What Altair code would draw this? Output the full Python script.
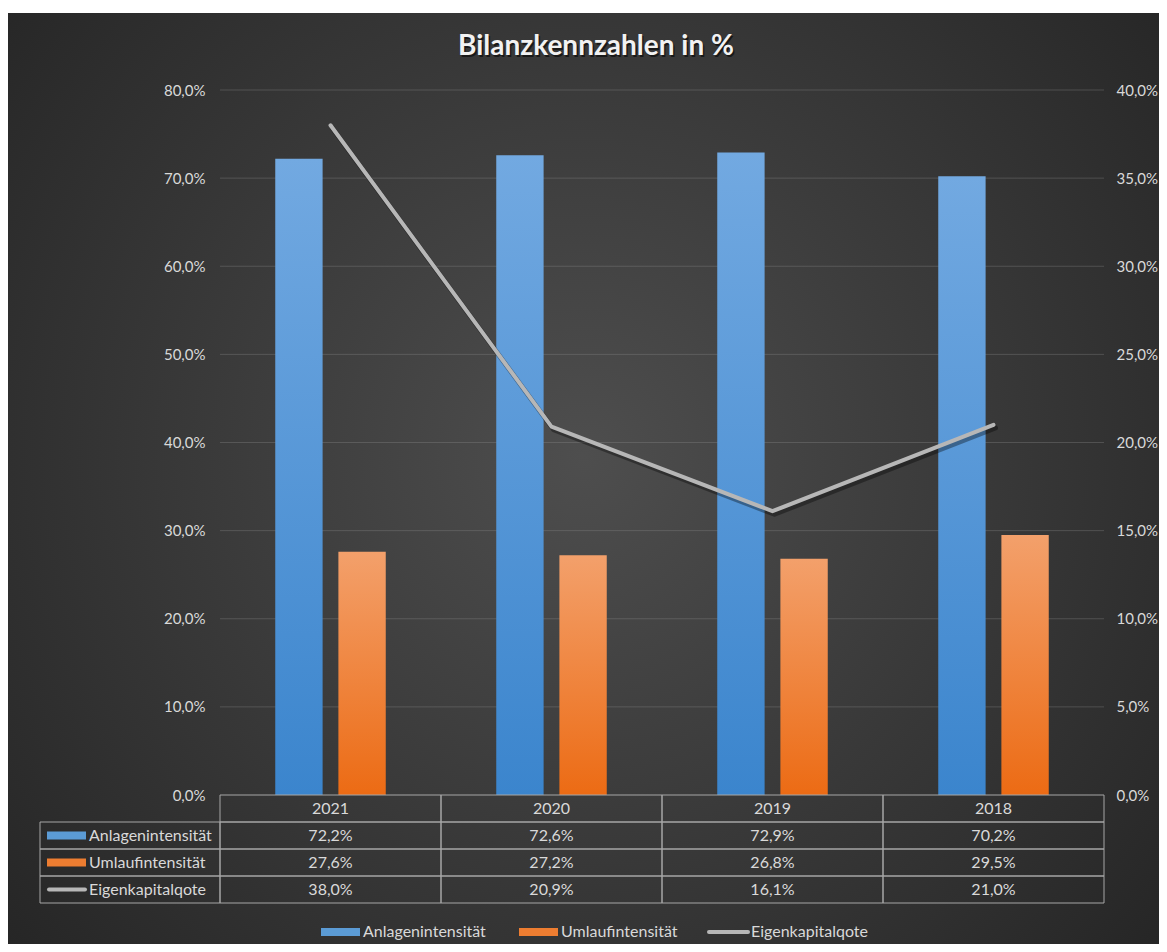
import altair as alt
import pandas as pd

# ---------------- data ----------------
years = ["2021", "2020", "2019", "2018"]
anlagen = [72.2, 72.6, 72.9, 70.2]
umlauf = [27.6, 27.2, 26.8, 29.5]
eigen = [38.0, 20.9, 16.1, 21.0]
series = ["Anlagenintensität", "Umlaufintensität", "Eigenkapitalqote"]
title_text = "Bilanzkennzahlen in %"
left_ticks = [0, 10, 20, 30, 40, 50, 60, 70, 80]
right_ticks = [0, 5, 10, 15, 20, 25, 30, 35, 40]

# ---------------- layout / style ----------------
W, H = 884, 705
FONT = "Lato"
TXT = "#d9d9d9"
BORDER = "#a6a6a6"
BLUE, ORANGE, GRAY = "#5b9bd5", "#ed7d31", "#b7b7b7"
ROW_H = 27
TFS = 16


def pct(v):
    return f"{v:.1f}".replace(".", ",") + "%"


de_label = "replace(format(datum.value, '.1f'), '.', ',') + '%'"

a_df = pd.DataFrame({"year": years, "value": anlagen, "series": series[0]})
u_df = pd.DataFrame({"year": years, "value": umlauf, "series": series[1]})
e_df = pd.DataFrame({"year": years, "value": eigen, "series": series[2]})
grid_df = pd.DataFrame({"value": left_ticks[1:]})

rows = ["header"] + series
tab_records = [{"row": "header", "year": y, "text": y} for y in years]
for name, vals in zip(series, [anlagen, umlauf, eigen]):
    for y, v in zip(years, vals):
        tab_records.append({"row": name, "year": y, "text": pct(v)})
tab_df = pd.DataFrame(tab_records)
lab_df = pd.DataFrame({"series": series})

color_enc = alt.Color("series:N", scale=alt.Scale(domain=series, range=[BLUE, ORANGE, GRAY]), legend=None)

x_bar = alt.X("year:N", scale=alt.Scale(domain=years, paddingInner=0.5, paddingOuter=0.25), axis=None)
xoff = alt.XOffset("series:N", scale=alt.Scale(domain=series[:2], paddingInner=0.25, paddingOuter=0))

blue_grad = alt.LinearGradient(
    gradient="linear", x1=0, y1=0, x2=0, y2=1,
    stops=[alt.GradientStop(offset=0, color="#72a9e1"), alt.GradientStop(offset=1, color="#3b85cd")],
)
orange_grad = alt.LinearGradient(
    gradient="linear", x1=0, y1=0, x2=0, y2=1,
    stops=[alt.GradientStop(offset=0, color="#f3a06b"), alt.GradientStop(offset=1, color="#ec6b14")],
)
bg_grad = alt.RadialGradient(
    gradient="radial", x1=0.5, y1=0.48, r1=0, x2=0.5, y2=0.48, r2=0.72,
    stops=[alt.GradientStop(offset=0, color="#4e4e4e"), alt.GradientStop(offset=1, color="#222222")],
)

# background
bg = alt.Chart(pd.DataFrame({"k": [0]})).mark_rect(fill=bg_grad).encode(
    x=alt.value(-212), x2=alt.value(939), y=alt.value(-77), y2=alt.value(854)
)

# title
t_df = pd.DataFrame({"t": [title_text]})
title_shadow = alt.Chart(t_df).mark_text(
    font=FONT, fontSize=28, fontWeight="bold", color="#000000", opacity=0.55, dx=1.5, dy=2
).encode(x=alt.value(376), y=alt.value(-43), text="t:N")
title = alt.Chart(t_df).mark_text(
    font=FONT, fontSize=28, fontWeight="bold", color="#f2f2f2"
).encode(x=alt.value(376), y=alt.value(-43), text="t:N")

# gridlines (behind the bars)
grid = alt.Chart(grid_df).mark_rule(color="#8a8a8a", opacity=0.35, strokeWidth=1).encode(
    x=alt.value(0), x2=alt.value(W),
    y=alt.Y("value:Q", scale=alt.Scale(domain=[0, 80]), axis=None),
)

# bars
y_left = alt.Y(
    "value:Q",
    scale=alt.Scale(domain=[0, 80]),
    axis=alt.Axis(
        orient="left", values=left_ticks, labelExpr=de_label, title=None, domain=False, ticks=False,
        grid=False, zindex=1,
        labelColor=TXT, labelFont=FONT, labelFontSize=15, labelPadding=15,
    ),
)
bars_a = alt.Chart(a_df).mark_bar(color=blue_grad).encode(x=x_bar, xOffset=xoff, y=y_left)
bars_u = alt.Chart(u_df).mark_bar(color=orange_grad).encode(
    x=x_bar, xOffset=xoff, y=alt.Y("value:Q", scale=alt.Scale(domain=[0, 80]), axis=None)
)

# line (secondary axis)
y_right = alt.Y(
    "value:Q",
    scale=alt.Scale(domain=[0, 40]),
    axis=alt.Axis(
        orient="right", values=right_ticks, labelExpr=de_label, title=None, domain=False, ticks=False,
        grid=False, zindex=1, labelColor=TXT, labelFont=FONT, labelFontSize=15, labelPadding=12,
    ),
)
line_shadow = alt.Chart(e_df).mark_line(
    color="#000000", opacity=0.35, strokeWidth=5, strokeCap="round", strokeJoin="round"
).encode(
    x=alt.X("year:N", scale=alt.Scale(domain=years, paddingInner=0.5, paddingOuter=0.25, range=[2, W + 2]), axis=None),
    y=alt.Y("value:Q", scale=alt.Scale(domain=[0, 40], range=[H + 3, 3]), axis=None),
)
line = alt.Chart(e_df).mark_line(
    color=GRAY, strokeWidth=4, strokeCap="round", strokeJoin="round"
).encode(x=x_bar, y=y_right)

# data table
x_tab = alt.X("year:N", scale=alt.Scale(domain=years, paddingInner=0, paddingOuter=0), axis=None)


def y_tab(lab=False, center=False):
    kw = {"bandPosition": 0.5} if center else {}
    return alt.Y(
        "series:N" if lab else "row:N",
        scale=alt.Scale(domain=rows, range=[H, H + 4 * ROW_H], paddingInner=0, paddingOuter=0),
        axis=None,
        **kw,
    )


cells = alt.Chart(tab_df).mark_rect(fillOpacity=0, stroke=BORDER, strokeWidth=1).encode(x=x_tab, y=y_tab())
cell_text = alt.Chart(tab_df).mark_text(font=FONT, fontSize=TFS, color=TXT).encode(
    x=x_tab, y=y_tab(), text="text:N"
)
lab_cells = alt.Chart(lab_df).mark_rect(fillOpacity=0, stroke=BORDER, strokeWidth=1).encode(
    x=alt.value(-180), x2=alt.value(0), y=y_tab(lab=True)
)
lab_text = alt.Chart(lab_df).mark_text(font=FONT, fontSize=TFS, color=TXT, align="left").encode(
    x=alt.value(-131), y=y_tab(lab=True), text="series:N"
)
lab_sym_bar = alt.Chart(lab_df.iloc[:2]).mark_rule(strokeWidth=8, strokeCap="butt").encode(
    x=alt.value(-173), x2=alt.value(-134), y=y_tab(lab=True, center=True), color=color_enc
)
lab_sym_line = alt.Chart(lab_df.iloc[2:]).mark_rule(strokeWidth=4, strokeCap="round").encode(
    x=alt.value(-171), x2=alt.value(-135), y=y_tab(lab=True, center=True), color=color_enc
)

# legend (bottom)
legend_x = [101, 299, 489]
LEG_Y = 842
SYM_W = 39
legend_layers = []
for i, (name, lx) in enumerate(zip(series, legend_x)):
    d = pd.DataFrame({"series": [name]})
    sw = 8 if i < 2 else 4
    legend_layers.append(
        alt.Chart(d).mark_rule(strokeWidth=sw, strokeCap="butt" if i < 2 else "round").encode(
            x=alt.value(lx), x2=alt.value(lx + SYM_W), y=alt.value(LEG_Y), color=color_enc
        )
    )
    legend_layers.append(
        alt.Chart(d).mark_text(font=FONT, fontSize=TFS, color=TXT, align="left").encode(
            x=alt.value(lx + SYM_W + 3), y=alt.value(LEG_Y), text="series:N"
        )
    )

chart = (
    alt.layer(
        bg, title_shadow, title, grid, bars_a, bars_u, line_shadow, line,
        cells, cell_text, lab_cells, lab_text, lab_sym_bar, lab_sym_line, *legend_layers,
    )
    .resolve_scale(x="independent", y="independent")
    .properties(width=W, height=H, padding={"top": 5, "left": 0, "right": 0, "bottom": 0}, background="white")
    .configure_view(strokeWidth=0)
)

chart.save("out.html", embed_options={"renderer": "svg", "actions": False})
